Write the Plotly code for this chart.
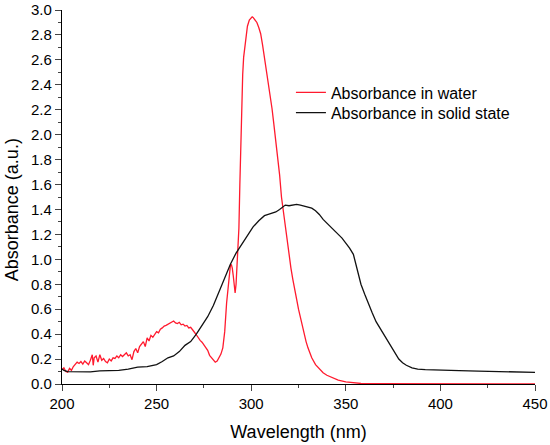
import plotly.graph_objects as go

red_nm = [200, 201, 202, 203, 204, 205, 206, 207, 208, 209, 210, 211, 212, 213, 214, 215, 216, 216.5, 217, 218, 219, 220,
          221, 222, 223, 224, 225, 226, 227, 228, 229, 230, 231, 232, 233, 234, 235, 236, 237, 238, 239, 240, 241, 242,
          243, 244, 245, 246, 247, 248, 249, 250, 251, 252, 253, 254, 255, 256, 257, 258, 259, 260, 261, 262, 263, 264,
          265, 266, 267, 268, 269, 270, 271, 272, 273, 274, 275, 276, 277, 278, 279, 280, 281, 282, 283, 284, 285, 286,
          287, 288, 289, 289.5, 290, 290.5, 291, 291.5, 292, 292.5, 293, 293.5, 294, 294.5, 295, 295.5, 296, 297, 298,
          299, 300, 300.5, 301, 302, 303, 304, 305, 306, 307, 308, 309, 310, 311, 312, 313, 314, 315, 316, 317, 318, 319,
          320, 321, 322, 323, 324, 325, 326, 327, 328, 329, 330, 332, 334, 336, 338, 340, 343, 346, 350, 354, 358, 365,
          380, 400, 425, 450]
red_abs = [0.115, 0.13, 0.10, 0.095, 0.125, 0.11, 0.14, 0.155, 0.175, 0.165, 0.18, 0.16, 0.185, 0.17, 0.155, 0.19, 0.235,
           0.15, 0.21, 0.225, 0.175, 0.235, 0.19, 0.205, 0.18, 0.17, 0.2, 0.185, 0.21, 0.205, 0.225, 0.21, 0.235, 0.22,
           0.24, 0.25, 0.225, 0.235, 0.195, 0.26, 0.285, 0.25, 0.3, 0.32, 0.34, 0.3, 0.37, 0.345, 0.39, 0.375, 0.4, 0.42,
           0.41, 0.44, 0.45, 0.465, 0.47, 0.48, 0.49, 0.495, 0.505, 0.49, 0.485, 0.495, 0.475, 0.48, 0.465, 0.47, 0.45,
           0.455, 0.43, 0.415, 0.395, 0.37, 0.35, 0.335, 0.31, 0.285, 0.27, 0.23, 0.21, 0.19, 0.175, 0.185, 0.21, 0.24,
           0.29, 0.42, 0.65, 0.83, 0.95, 0.96, 0.93, 0.87, 0.78, 0.73, 0.8, 0.92, 1.05, 1.25, 1.6, 1.95, 2.3, 2.48, 2.62,
           2.77, 2.87, 2.92, 2.94, 2.945, 2.94, 2.92, 2.9, 2.86, 2.81, 2.72, 2.62, 2.52, 2.41, 2.31, 2.21, 2.08, 1.96,
           1.82, 1.68, 1.5, 1.38, 1.25, 1.13, 1.02, 0.93, 0.84, 0.77, 0.68, 0.6, 0.53, 0.46, 0.4, 0.34, 0.29, 0.21, 0.155,
           0.12, 0.09, 0.07, 0.048, 0.032, 0.017, 0.008, 0.004, 0.002, 0.001, 0.001, 0.001, 0.001]

black_nm = [200, 201, 203, 205, 210, 215, 220, 225, 230, 235, 240, 245, 250, 253, 256, 259, 262, 265, 268, 271, 274, 277,
            280, 283, 286, 289, 292, 295, 298, 301, 304, 307, 309, 311, 313, 315, 317, 318, 320, 322, 324, 326, 328, 330,
            332, 334, 336, 338, 340, 342, 344, 346, 348, 350, 352, 354, 356, 358, 360, 362, 364, 366, 368, 370, 372, 374,
            376, 378, 380, 382, 385, 388, 392, 396, 400, 410, 420, 430, 440, 450]
black_abs = [0.12, 0.11, 0.10, 0.10, 0.10, 0.098, 0.105, 0.107, 0.11, 0.12, 0.135, 0.14, 0.155, 0.18, 0.21, 0.225, 0.26,
             0.31, 0.34, 0.40, 0.47, 0.54, 0.63, 0.74, 0.86, 0.96, 1.05, 1.12, 1.2, 1.26, 1.31, 1.35, 1.36, 1.37, 1.38,
             1.40, 1.42, 1.435, 1.43, 1.435, 1.44, 1.435, 1.425, 1.42, 1.41, 1.39, 1.36, 1.32, 1.29, 1.26, 1.23, 1.20,
             1.17, 1.13, 1.09, 1.04, 0.91, 0.80, 0.72, 0.64, 0.57, 0.50, 0.45, 0.41, 0.36, 0.30, 0.25, 0.20, 0.17, 0.15,
             0.13, 0.12, 0.115, 0.112, 0.11, 0.107, 0.104, 0.1, 0.097, 0.093]

x_ticks = [200, 250, 300, 350, 400, 450]
y_ticks = [0.0, 0.2, 0.4, 0.6, 0.8, 1.0, 1.2, 1.4, 1.6, 1.8, 2.0, 2.2, 2.4, 2.6, 2.8, 3.0]

FONT = "Arial, Liberation Sans, sans-serif"

fig = go.Figure()
fig.add_trace(go.Scatter(x=red_nm, y=red_abs, mode="lines", name="Absorbance in water",
                         line=dict(color="#ff1a2e", width=1.3), legend="legend"))
fig.add_trace(go.Scatter(x=black_nm, y=black_abs, mode="lines", name="Absorbance in solid state",
                         line=dict(color="#111111", width=1.3), legend="legend2"))

leg_common = dict(xanchor="left", yanchor="top", bgcolor="rgba(0,0,0,0)", borderwidth=0,
                  font=dict(size=16, family=FONT, color="black"))
fig.update_layout(
    width=550, height=445,
    margin=dict(l=62, r=15, t=10, b=61, autoexpand=False),
    paper_bgcolor="white", plot_bgcolor="white",
    font=dict(family=FONT, color="black", size=15),
    showlegend=True,
    legend=dict(x=0.484, y=0.825, **leg_common),
    legend2=dict(x=0.484, y=0.771, **leg_common),
    annotations=[dict(text="Absorbance (a.u.)", textangle=-90, xref="paper", yref="paper",
                      x=-0.106, y=0.467, xanchor="center", yanchor="middle", showarrow=False,
                      font=dict(size=18, family=FONT, color="black"))],
)
fig.update_xaxes(
    range=[200, 450], tickvals=x_ticks, ticks="outside", ticklen=6, tickwidth=1.2,
    showline=True, linecolor="black", linewidth=1.3, showgrid=False, zeroline=False,
    minor=dict(dtick=25, ticks="outside", ticklen=3, tickwidth=1.2, showgrid=False),
    layer="below traces", automargin=False, ticklabeloverflow="allow",
    title=dict(text="Wavelength (nm)", font=dict(size=18, family=FONT), standoff=14),
    tickfont=dict(size=15, family=FONT),
)
fig.update_yaxes(
    range=[0, 3.0], tickvals=y_ticks, tickformat=".1f", ticks="outside", ticklen=6, tickwidth=1.2,
    showline=True, linecolor="black", linewidth=1.3, showgrid=False, zeroline=False,
    minor=dict(dtick=0.1, ticks="outside", ticklen=3, tickwidth=1.2, showgrid=False),
    layer="below traces", automargin=False, ticklabeloverflow="allow",
    tickfont=dict(size=15, family=FONT),
)

fig.write_html("out.html", config={"displayModeBar": False},
               post_script="document.body.style.margin='0';document.body.style.overflow='hidden';")
